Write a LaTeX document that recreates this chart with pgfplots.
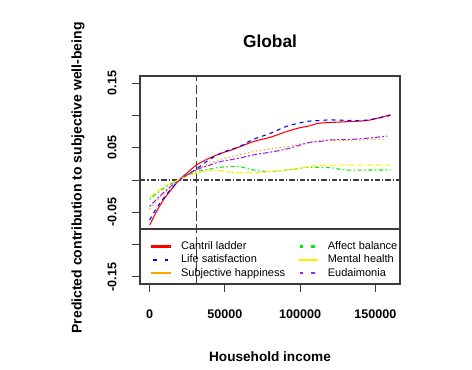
\documentclass[border=0pt]{standalone}
\usepackage{fontspec}
\setmainfont{Liberation Sans}
\usepackage{pgfplots}
\pgfplotsset{compat=1.18}
\definecolor{rorange}{RGB}{255,165,0}
\definecolor{rpurple}{RGB}{160,32,240}
\definecolor{rgreen}{RGB}{0,235,0}
\definecolor{ryellow}{RGB}{255,240,0}
\definecolor{boxgray}{RGB}{60,60,60}
\begin{document}
\begin{tikzpicture}
\begin{axis}[
  at={(105pt,63.75pt)}, anchor=south west,
  scale only axis, width=195pt, height=156pt,
  xmin=-6400, xmax=166400, ymin=-0.161, ymax=0.161,
  scaled x ticks=false, scaled y ticks=false,
  axis line style={boxgray, line width=0.9pt},
  tick style={boxgray, line width=0.75pt},
  tick align=outside, major tick length=6pt,
  xtick pos=bottom, ytick pos=left,
  xtick={0,50000,100000,150000},
  xticklabels={0,50000,100000,150000},
  ytick={-0.15,-0.1,-0.05,0,0.05,0.1,0.15},
  yticklabels={-0.15,,-0.05,,0.05,,0.15},
  ticklabel style={font=\fontsize{9.4}{11}\selectfont\bfseries},
  xticklabel style={anchor=center},
  xticklabel shift=16.5pt,
  yticklabel style={rotate=90, anchor=center},
  yticklabel shift=15pt,
  title={Global},
  title style={font=\fontsize{13}{15}\selectfont\bfseries, at={(axis description cs:0.5,1)}, anchor=center, yshift=20pt},
  xlabel={Household income},
  xlabel style={font=\fontsize{10.2}{12}\selectfont\bfseries, at={(axis description cs:0.5,0)}, anchor=center, yshift=-54.75pt},
  ylabel={Predicted contribution to subjective well-being},
  ylabel style={font=\fontsize{10.5}{12}\selectfont\bfseries, at={([xshift=-46.5pt]axis description cs:0,0.51)}, anchor=center},
  legend columns=2,
  legend cell align=left,
  legend style={at={(axis description cs:0.0385,0.207)}, anchor=north west, draw=none, fill=none, inner sep=0pt,
    font=\fontsize{8.25}{9}\selectfont, row sep=2pt,
    nodes={inner sep=0pt, text height=6.2pt, text depth=1.8pt},
    /tikz/every odd column/.style={column sep=6.5pt},
    /tikz/every even column/.style={column sep=9pt}},
]
% reference lines
\addplot[boxgray, line width=0.9pt, dash pattern=on 4pt off 1.5pt on 1pt off 1.5pt, forget plot] coordinates {(-6400,0) (166400,0)};
\addplot[boxgray, line width=1.1pt, dash pattern=on 7pt off 2.5pt, forget plot] coordinates {(31000,-0.161) (31000,0.161)};
\draw[boxgray, line width=0.9pt] (rel axis cs:0,0.264) -- (rel axis cs:1,0.264);
% Cantril ladder
\addplot[red, line width=0.8pt, forget plot, smooth] coordinates {
(0,-0.070) (5000,-0.047) (10000,-0.028) (15000,-0.013) (20000,0.001) (25000,0.011) (31000,0.023) (38000,0.032) (47000,0.041) (55000,0.047) (69000,0.0595) (80000,0.066) (91000,0.075) (100000,0.081) (106600,0.084) (113000,0.088) (128700,0.090) (144000,0.092) (152000,0.096) (160000,0.101)};
% Life satisfaction
\addplot[blue, line width=0.8pt, dash pattern=on 3pt off 3pt, forget plot, smooth] coordinates {
(0,-0.062) (5000,-0.042) (10000,-0.026) (15000,-0.012) (20000,0.000) (25000,0.008) (31000,0.017) (40000,0.032) (50000,0.044) (60000,0.052) (69000,0.063) (80000,0.072) (91000,0.083) (104000,0.0905) (113000,0.092) (120000,0.093) (140000,0.092) (150000,0.095) (160000,0.100)};
% Subjective happiness
\addplot[rorange, line width=0.8pt, dash pattern=on 1pt off 2pt, forget plot, smooth] coordinates {
(0,-0.045) (10000,-0.020) (20000,0.000) (31000,0.015) (40000,0.026) (47000,0.032) (60000,0.039) (69000,0.044) (80000,0.048) (91000,0.0517) (106000,0.058) (113000,0.061) (128000,0.061) (140000,0.062) (158000,0.0636)};
% Affect balance
\addplot[rgreen, line width=0.8pt, dash pattern=on 1pt off 2pt on 3pt off 2pt, forget plot, smooth] coordinates {
(0,-0.030) (5000,-0.020) (10000,-0.012) (15000,-0.005) (20000,0.000) (25000,0.007) (31000,0.013) (40000,0.017) (47000,0.0197) (55000,0.021) (60000,0.0207) (69000,0.0155) (80000,0.013) (91000,0.0155) (100000,0.018) (106000,0.0197) (120000,0.019) (130000,0.0155) (145000,0.0155) (160000,0.0155)};
% Mental health
\addplot[ryellow, line width=0.8pt, dash pattern=on 5pt off 2pt, forget plot, smooth] coordinates {
(0,-0.027) (5000,-0.018) (10000,-0.010) (15000,-0.004) (20000,0.001) (25000,0.006) (31000,0.0104) (40000,0.015) (47000,0.0145) (55000,0.012) (69000,0.011) (80000,0.013) (91000,0.0155) (100000,0.018) (106000,0.0207) (115000,0.023) (130000,0.023) (160000,0.023)};
% Eudaimonia
\addplot[rpurple, line width=0.8pt, dash pattern=on 1.5pt off 1.5pt on 4pt off 1.5pt, forget plot, smooth] coordinates {
(0,-0.041) (5000,-0.029) (10000,-0.018) (15000,-0.008) (20000,0.000) (25000,0.008) (31000,0.016) (40000,0.023) (47000,0.0285) (60000,0.034) (69000,0.039) (80000,0.043) (91000,0.048) (106000,0.058) (113000,0.0595) (120000,0.062) (135000,0.063) (146000,0.065) (158000,0.068)};
% legend (row-wise order)
\addlegendimage{legend image code/.code={\draw[red, line width=1.6pt] (0pt,0pt) -- (15pt,0pt);}}
\addlegendentry{Cantril ladder}
\addlegendimage{legend image code/.code={\draw[rgreen, line width=1.6pt, dash pattern=on 2.5pt off 6pt] (1.5pt,0pt) -- (15pt,0pt);}}
\addlegendentry{Affect balance}
\addlegendimage{legend image code/.code={\draw[blue, line width=1.6pt, dash pattern=on 2.5pt off 6pt] (1.5pt,0pt) -- (15pt,0pt);}}
\addlegendentry{Life satisfaction}
\addlegendimage{legend image code/.code={\draw[ryellow, line width=1.6pt] (0pt,0pt) -- (15pt,0pt);}}
\addlegendentry{Mental health}
\addlegendimage{legend image code/.code={\draw[rorange, line width=1.6pt] (0pt,0pt) -- (15pt,0pt);}}
\addlegendentry{Subjective happiness}
\addlegendimage{legend image code/.code={\draw[rpurple, line width=1.6pt, dash pattern=on 2.5pt off 6pt] (1.5pt,0pt) -- (15pt,0pt);}}
\addlegendentry{Eudaimonia}
\end{axis}
\pgfresetboundingbox
\useasboundingbox (0,0) rectangle (354pt,276.75pt);
\end{tikzpicture}
\end{document}
